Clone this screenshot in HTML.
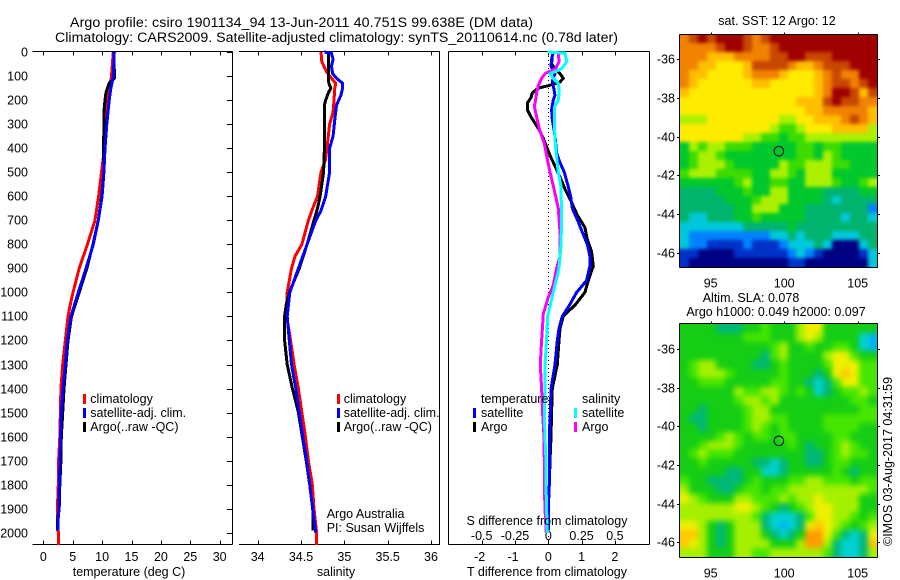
<!DOCTYPE html>
<html lang="en">
<head>
<meta charset="utf-8">
<title>Argo profile</title>
<style>
html,body{margin:0;padding:0;background:#fff}
svg{display:block}
text{font-family:"Liberation Sans",sans-serif;font-size:12.5px;fill:#000}
.title{font-size:14.2px}
</style>
</head>
<body>
<svg id="chart" width="900" height="580" viewBox="0 0 900 580" xmlns="http://www.w3.org/2000/svg">
  <defs>
    <filter id="sst-blur" filterUnits="userSpaceOnUse" x="640" y="0" width="260" height="300" color-interpolation-filters="sRGB"><feGaussianBlur stdDeviation="1.8"/></filter>
    <filter id="sla-blur" filterUnits="userSpaceOnUse" x="640" y="290" width="260" height="290" color-interpolation-filters="sRGB"><feGaussianBlur stdDeviation="3"/></filter>
    <clipPath id="sst-clip"><rect x="680" y="34" width="197" height="233"/></clipPath>
    <clipPath id="sla-clip"><rect x="680" y="324" width="197" height="233"/></clipPath>
  </defs>
  <rect x="0" y="0" width="900" height="580" fill="#fff"/>
  <g id="maps"></g>
  <g id="axes"></g>
  <g id="lines"></g>

  <text class="title" x="70" y="27" textLength="463">Argo profile: csiro 1901134_94 13-Jun-2011 40.751S 99.638E (DM data)</text>
  <text class="title" x="55" y="42" textLength="563">Climatology: CARS2009. Satellite-adjusted climatology: synTS_20110614.nc (0.78d later)</text>

  <text x="129" y="576" text-anchor="middle">temperature (deg C)</text>
  <text x="336" y="576" text-anchor="middle">salinity</text>
  <text x="547" y="576" text-anchor="middle">T difference from climatology</text>
  <text x="547" y="525" text-anchor="middle">S difference from climatology</text>

  <g>
    <rect x="83" y="394" width="3" height="10" fill="#f00"/>
    <text x="90.3" y="403">climatology</text>
    <rect x="83" y="408" width="3" height="10" fill="#00f"/>
    <text x="90.3" y="417">satellite-adj. clim.</text>
    <rect x="83" y="422" width="3" height="10" fill="#000"/>
    <text x="90.3" y="431">Argo(..raw -QC)</text>
  </g>
  <g>
    <rect x="337" y="394" width="3" height="10" fill="#f00"/>
    <text x="343.7" y="403">climatology</text>
    <rect x="337" y="408" width="3" height="10" fill="#00f"/>
    <text x="343.7" y="417">satellite-adj. clim.</text>
    <rect x="337" y="422" width="3" height="10" fill="#000"/>
    <text x="343.7" y="431">Argo(..raw -QC)</text>
  </g>
  <text x="326.7" y="518">Argo Australia</text>
  <text x="326.7" y="532">PI: Susan Wijffels</text>

  <g>
    <text x="481" y="403">temperature</text>
    <rect x="473" y="408" width="3" height="10" fill="#00f"/>
    <text x="481" y="417">satellite</text>
    <rect x="473" y="422" width="3" height="10" fill="#000"/>
    <text x="481" y="431">Argo</text>
    <text x="582" y="403">salinity</text>
    <rect x="574" y="408" width="3" height="10" fill="#0ff"/>
    <text x="582" y="417">satellite</text>
    <rect x="574" y="422" width="3" height="10" fill="#f0f"/>
    <text x="582" y="431">Argo</text>
  </g>

  <text x="777" y="25" text-anchor="middle">sat. SST: 12 Argo: 12</text>
  <text x="751" y="302" text-anchor="middle">Altim. SLA: 0.078</text>
  <text x="776" y="316" text-anchor="middle">Argo h1000: 0.049 h2000: 0.097</text>
  <text transform="translate(892,546) rotate(-90)">©IMOS 03-Aug-2017 04:31:59</text>
</svg>

<script>
// ---------- profile data ----------
const depthTicks = [0,100,200,300,400,500,600,700,800,900,1000,1100,1200,1300,1400,1500,1600,1700,1800,1900,2000];
const tempTicks = [0,5,10,15,20,25,30];
const salinityTicks = [34,34.5,35,35.5,36];
const salinityTickLabels = ['34','34.5','35','35.5','36'];
const tDiffTicks = [-2,-1,0,1,2];
const sDiffTicks = [-0.5,-0.25,0,0.25,0.5];
const sDiffTickLabels = ['-0.5','-0.25','0','0.25','0.5'];
const lonTicks = [95,100,105];
const latTicks = [-36,-38,-40,-42,-44,-46];
const floatLon = 99.638;
const floatLat = -40.751;

const tempClimDepth = [0,100,200,300,400,500,600,700,800,900,1000,1050,1100,1200,1300,1400,1500,1600,1700,1800,1900,2000,2050];
const tempClim = [11.9,11.6,10.9,10.55,10.4,9.9,9.4,8.8,7.5,6.1,5.05,4.6,4.2,3.75,3.3,3.0,2.9,2.8,2.6,2.55,2.4,2.55,2.55];

const tempSatDepth = [0,100,150,200,300,400,500,600,700,800,900,1000,1100,1200,1300,1400,1500,1600,1700,1800,1900,1950,1990];
const tempSat = [12.08,11.9,11.5,11.2,10.8,10.5,10.3,10.0,9.35,8.5,7.26,5.95,4.7,4.08,3.75,3.35,3.06,2.95,2.84,2.72,2.67,2.5,2.5];

const tempArgoDepth = [0,100,110,130,150,170,200,250,300,400,500,600,700,800,900,1000,1100,1200,1300,1400,1500,1600,1700,1800,1900,1950,1990];
const tempArgo = [12.0,12.1,12.1,11.2,10.9,10.65,10.5,10.3,10.3,10.25,10.3,9.93,9.35,8.45,7.4,6.1,4.8,4.2,3.86,3.52,3.3,3.06,3.0,2.8,2.7,2.4,2.4];

const salClimDepth = [0,40,80,100,130,150,200,250,300,400,450,500,600,650,700,800,850,900,1000,1050,1100,1200,1300,1400,1500,1600,1700,1800,1900,2000,2050];
const salClim = [34.73,34.74,34.79,34.83,34.90,34.89,34.88,34.87,34.83,34.80,34.78,34.73,34.69,34.635,34.585,34.51,34.43,34.39,34.34,34.335,34.335,34.38,34.42,34.47,34.51,34.55,34.585,34.63,34.65,34.68,34.68];

const salSatDepth = [0,5,30,60,90,110,130,150,180,220,280,350,400,500,600,660,700,800,900,1000,1100,1200,1300,1400,1500,1600,1700,1800,1900,2000];
const salSat = [34.77,34.85,34.87,34.85,34.865,34.91,34.98,34.98,34.96,34.91,34.89,34.87,34.83,34.83,34.785,34.73,34.67,34.57,34.47,34.37,34.34,34.365,34.39,34.44,34.48,34.52,34.565,34.60,34.635,34.67];

const salArgoDepth = [0,100,130,150,170,200,220,300,400,500,600,650,700,800,900,1000,1050,1100,1200,1300,1400,1500,1600,1700,1800,1900,1950,1990];
const salArgo = [34.815,34.815,34.82,34.845,34.815,34.785,34.77,34.77,34.77,34.76,34.72,34.69,34.65,34.57,34.48,34.365,34.33,34.31,34.31,34.34,34.40,34.47,34.515,34.56,34.60,34.635,34.64,34.64];

const tDiffSatDepth = [0,30,60,90,120,140,180,200,240,280,350,420,460,500,550,600,650,700,750,800,850,890,950,1000,1050,1100,1150,1200,1300,1400,1500,1600,1700,1800,1900,1990];
const tDiffSat = [0.15,0.10,0.08,0.2,0.12,0.15,0.20,0.15,0.10,0.12,0.2,0.25,0.35,0.48,0.58,0.67,0.72,0.88,1.02,1.17,1.25,1.25,1.15,0.85,0.65,0.42,0.32,0.27,0.2,0.08,0.06,0.03,0.03,0.03,0,0];

const tDiffArgoDepth = [0,50,70,90,110,125,140,150,170,190,210,240,270,300,330,370,430,480,520,570,620,680,730,780,830,890,950,1000,1050,1100,1150,1200,1300,1400,1500,1600,1700,1800,1900,1990];
const tDiffArgo = [0.13,0.1,0.2,0.35,0.45,0.35,0,-0.3,-0.48,-0.52,-0.62,-0.63,-0.52,-0.38,-0.25,-0.12,0.05,0.22,0.35,0.5,0.68,0.88,1.1,1.17,1.3,1.35,1.2,1.1,0.82,0.45,0.35,0.32,0.27,0.12,0.1,0.08,0.05,0.03,0,0];

const sDiffSatDepth = [0,5,40,70,90,110,130,160,200,230,300,400,500,560,700,800,900,970,1030,1100,1200,1300,1400,1500,1600,1700,1800,1900,2000];
const sDiffSat = [-0.005,0.125,0.14,0.1,0.0125,0.0375,0.075,0.0825,0.075,0.045,0.045,0.055,0.075,0.095,0.1,0.095,0.08,0.05,0.025,-0.005,-0.0125,-0.025,-0.025,-0.03,-0.025,-0.0175,-0.0175,-0.0125,-0.0075];

const sDiffArgoDepth = [0,40,70,90,110,140,170,200,225,270,330,380,430,500,570,650,750,850,900,970,1020,1090,1200,1300,1400,1500,1600,1700,1800,1900,1950,2000];
const sDiffArgo = [0.075,0.08,0.055,-0.025,-0.05,-0.075,-0.0875,-0.095,-0.105,-0.0875,-0.0625,-0.03,-0.0125,0.0125,0.0425,0.075,0.0875,0.0875,0.0625,0.0375,0,-0.0375,-0.05,-0.06,-0.05,-0.0425,-0.0325,-0.03,-0.03,-0.025,-0.02,-0.015];

// ---------- map data (colour level per cell, north to south) ----------
const sstColors = ['#000082','#0032c8','#0082ff','#00c8dc','#00b46e','#00c82d','#3cdc00','#aaf000','#ffeb00','#ffbe00','#f08200','#c84600','#a00000'];
const slaColors = ['#000082','#0032c8','#00b4f0','#00d2d2','#00b878','#14cd14','#46e600','#a5f000','#f0f000','#ffc800','#ff9b00','#c84600','#a00000'];

const sstCells = [
[10,11,12,11,12,12,12,11,10,11,12,12,12,12,12,12,12,12,12,12,12,12],
[10,10,10,10,11,12,12,11,10,10,11,12,12,12,12,12,12,12,12,12,12,12],
[10,10,10,9,9,9,10,10,10,10,11,11,12,12,11,11,11,12,12,12,12,12],
[10,10,9,9,8,8,8,9,11,11,11,11,10,9,9,10,11,11,11,12,12,12],
[10,9,9,8,8,8,8,9,10,10,10,9,8,8,8,9,10,11,10,10,12,12],
[10,9,8,8,8,8,8,8,9,9,8,8,8,8,8,9,10,11,11,10,11,12],
[9,8,8,8,8,8,8,8,8,8,8,8,8,8,8,9,10,12,12,11,9,11],
[8,8,8,8,8,8,8,8,8,8,8,8,8,9,9,9,11,12,11,11,10,10],
[8,8,8,8,8,8,8,8,8,8,8,8,8,8,9,9,10,10,10,10,10,9],
[7,7,7,8,8,8,8,8,8,8,8,7,7,8,8,9,9,9,10,11,10,9],
[8,8,8,8,8,8,8,8,8,8,7,6,6,7,8,8,8,9,9,9,9,7],
[8,8,8,8,8,8,8,7,7,6,6,5,6,6,7,7,7,7,7,7,7,7],
[5,7,6,7,7,6,6,6,5,5,5,5,5,6,6,5,6,6,5,5,5,5],
[5,6,7,7,6,5,5,5,5,5,5,5,5,6,6,5,7,6,5,5,5,5],
[5,6,7,7,7,6,5,5,5,5,5,7,6,6,7,7,7,6,6,5,5,5],
[6,7,7,7,6,6,6,6,5,5,7,7,6,5,7,7,7,5,5,5,5,5],
[5,5,5,5,5,5,6,7,5,5,6,6,5,5,7,7,7,6,5,5,6,7],
[4,4,4,4,5,5,5,6,5,5,7,7,5,5,5,5,4,4,4,4,5,5],
[4,4,4,4,4,5,5,5,6,7,7,7,5,5,5,5,4,3,4,4,4,4],
[4,4,4,4,4,4,5,5,7,7,7,5,5,5,4,4,4,4,4,4,4,2],
[4,3,3,4,4,4,5,5,6,5,5,5,5,5,4,4,4,4,3,4,4,3],
[3,3,3,3,3,3,3,4,4,4,4,4,5,4,4,4,4,4,4,4,4,4],
[3,2,2,2,2,2,2,2,2,2,3,3,4,3,4,4,4,3,3,3,4,4],
[3,2,2,1,1,1,1,2,1,1,1,2,3,3,3,4,3,0,0,0,3,4],
[1,1,0,0,0,0,1,1,1,1,1,1,2,3,2,1,0,0,0,0,1,3],
[1,0,0,0,0,0,0,0,0,0,0,0,1,1,0,0,0,0,0,0,0,3]
];

const slaCells = [
[5,5,5,5,4,4,4,5,5,6,5,5,5,7,8,8,5,5,5,5,5,5],
[5,5,5,5,5,5,5,6,6,6,5,5,5,7,8,7,5,5,5,5,3,2],
[5,5,5,5,5,5,5,5,5,5,6,7,5,5,6,5,5,6,6,5,3,2],
[5,5,5,5,5,5,5,5,5,4,6,7,5,5,5,5,7,8,8,6,5,5],
[5,6,7,7,5,5,5,5,4,4,5,6,5,5,5,5,6,8,8,8,6,6],
[5,6,7,7,7,6,5,5,5,5,5,6,5,5,5,4,5,8,9,8,6,6],
[5,5,6,6,6,5,5,5,5,5,6,6,5,5,4,3,4,6,8,8,6,6],
[5,5,5,5,5,5,7,6,6,7,7,6,5,6,5,3,4,5,6,6,7,6],
[5,5,5,5,5,5,6,7,7,6,7,5,5,5,5,5,5,5,5,6,6,5],
[5,5,4,5,5,5,5,6,7,7,5,5,5,5,5,5,5,5,5,5,6,6],
[5,4,4,5,5,5,5,6,7,7,6,6,5,5,5,5,6,6,6,6,6,6],
[5,5,4,5,5,5,5,6,7,6,5,6,5,5,5,5,6,6,6,6,5,5],
[5,5,5,5,6,7,6,5,6,6,5,6,6,5,5,5,5,6,6,5,5,5],
[5,5,6,7,7,7,6,5,5,5,5,5,6,5,4,5,5,6,7,6,5,5],
[5,6,7,6,6,6,5,5,5,5,5,5,5,5,4,4,5,6,7,6,6,5],
[5,5,6,5,5,5,5,5,4,4,3,4,5,5,4,4,5,6,6,5,5,5],
[5,5,5,5,5,4,4,5,5,3,3,4,5,5,5,5,5,6,5,4,5,5],
[6,5,5,4,4,4,4,5,6,5,5,5,6,6,7,7,6,6,6,5,6,6],
[7,5,5,5,4,4,5,6,6,5,6,6,7,7,7,7,7,7,7,7,7,6],
[8,7,6,5,5,5,7,7,6,6,6,7,6,7,7,8,7,7,7,7,5,5],
[7,7,7,7,7,7,8,8,7,6,5,4,5,6,7,8,8,7,7,7,5,5],
[7,7,7,7,7,7,7,7,6,4,3,3,3,4,6,8,8,7,7,6,5,6],
[8,8,7,5,4,5,7,7,7,4,3,2,3,4,8,9,8,7,6,5,6,7],
[9,9,7,5,4,5,7,7,7,5,4,3,4,5,10,10,8,6,4,3,4,8],
[9,8,7,5,4,5,7,7,7,7,5,5,5,7,10,10,7,4,3,3,4,9],
[7,7,7,5,5,5,7,7,6,6,7,7,7,7,7,7,6,4,3,3,4,7]
];

// ---------- axis functions ----------
const depthY = d => 52 + 0.2404 * d;
const tempX = t => 43.3 + 5.88 * t;
const salX = s => 257.7 + 86.65 * (s - 34);
const tDiffX = t => 548.3 + 33.3 * t;
const sDiffX = s => tDiffX(s * 4);
const lonX = lon => 710.7 + 14.7 * (lon - 95);
const sstLatY = lat => 59.3 + 19.34 * (-36 - lat);
const slaLatY = lat => 349 + 19.34 * (-36 - lat);

const SVGNS = 'http://www.w3.org/2000/svg';
const axesLayer = document.getElementById('axes');
const linesLayer = document.getElementById('lines');
const mapsLayer = document.getElementById('maps');

function make(tag, parent, attrs) {
  const el = document.createElementNS(SVGNS, tag);
  for (const k in attrs) el.setAttribute(k, attrs[k]);
  parent.appendChild(el);
  return el;
}
function seg(x1, y1, x2, y2, name) {
  const el = make('line', axesLayer, {x1: x1, y1: y1, x2: x2, y2: y2, stroke: '#000', 'stroke-width': 1, 'shape-rendering': 'crispEdges'});
  
  
  return el;
}
function label(x, y, str, anchor, name) {
  const el = make('text', axesLayer, {x: x, y: y, 'text-anchor': anchor});
  el.textContent = str;
  
  
  return el;
}
function profile(depths, values, xf, color, name) {
  const pts = depths.map((d, i) => xf(values[i]).toFixed(1) + ',' + depthY(d).toFixed(1)).join(' ');
  const el = make('polyline', linesLayer, {points: pts, fill: 'none', stroke: color, 'stroke-width': 3, 'shape-rendering': 'crispEdges', 'stroke-linejoin': 'round'});
  
  
}

// ---------- profile panel frames ----------
const top_ = 51.5, bottom = 544.5;
seg(32.5, top_, 232.5, top_, 'temperature-panel-top-spine');
seg(32.5, bottom, 232.5, bottom, 'temperature-panel-bottom-spine');
seg(232.5, top_, 232.5, bottom, 'temperature-panel-right-spine');
seg(239, top_, 440, top_, 'salinity-panel-top-spine');
seg(239, bottom, 440, bottom, 'salinity-panel-bottom-spine');
seg(439.5, top_, 439.5, bottom, 'salinity-panel-right-spine');
seg(448.5, top_, 649.5, top_, 'difference-panel-top-spine');
seg(448.5, bottom, 649.5, bottom, 'difference-panel-bottom-spine');
seg(448.5, top_, 448.5, bottom, 'difference-panel-left-spine');
seg(649.5, top_, 649.5, bottom, 'difference-panel-right-spine');

depthTicks.forEach(d => {
  const y = Math.round(depthY(d)) + 0.5;
  seg(227, y, 232, y, 'depth-tick');
  label(28, y + 4, String(d), 'end', 'depth-tick-label');
});
tempTicks.forEach(t => {
  const x = Math.round(tempX(t)) + 0.5;
  seg(x, top_, x, top_ + 4, 'temperature-top-tick');
  seg(x, bottom, x, bottom - 4, 'temperature-bottom-tick');
  label(tempX(t), 561, String(t), 'middle', 'temperature-tick-label');
});
salinityTicks.forEach((s, i) => {
  const x = Math.round(salX(s)) + 0.5;
  seg(x, top_, x, top_ + 4, 'salinity-top-tick');
  seg(x, bottom, x, bottom - 4, 'salinity-bottom-tick');
  label(salX(s), 561, salinityTickLabels[i], 'middle', 'salinity-tick-label');
});
tDiffTicks.forEach(t => {
  const x = Math.round(tDiffX(t)) + 0.5;
  seg(x, top_, x, top_ + 4, 'difference-top-tick');
  seg(x, bottom, x, bottom - 4, 'difference-bottom-tick');
  label(tDiffX(t) - (t < 0 ? 2 : 0), 561, String(t), 'middle', 'difference-tick-label');
});
sDiffTicks.forEach((s, i) => {
  label(sDiffX(s), 540, sDiffTickLabels[i], 'middle', 's-difference-tick-label');
});

// ---------- zero line ----------
const zeroLine = make('line', linesLayer, {x1: tDiffX(0), y1: depthY(0), x2: tDiffX(0), y2: depthY(2050), stroke: '#000', 'stroke-width': 1, 'stroke-dasharray': '1 3', 'shape-rendering': 'crispEdges'});



// ---------- profile lines ----------
profile(tempClimDepth, tempClim, tempX, '#f00', 'temperature-climatology-line');
profile(tempArgoDepth, tempArgo, tempX, '#000', 'temperature-argo-line');
profile(tempSatDepth, tempSat, tempX, '#00f', 'temperature-satellite-line');

profile(salClimDepth, salClim, salX, '#f00', 'salinity-climatology-line');
profile(salArgoDepth, salArgo, salX, '#000', 'salinity-argo-line');
profile(salSatDepth, salSat, salX, '#00f', 'salinity-satellite-line');

profile(tDiffArgoDepth, tDiffArgo, tDiffX, '#000', 't-difference-argo-line');
profile(tDiffSatDepth, tDiffSat, tDiffX, '#00f', 't-difference-satellite-line');
profile(sDiffArgoDepth, sDiffArgo, sDiffX, '#f0f', 's-difference-argo-line');
profile(sDiffSatDepth, sDiffSat, sDiffX, '#0ff', 's-difference-satellite-line');

// ---------- maps ----------
const lonMin = 92.9, lonStep = 0.6105;
const latMax = -34.72, latStep = 0.4625;

function drawMap(cells, colors, latY, prefix) {
  const clip = make('g', mapsLayer, {'clip-path': 'url(#' + prefix + '-clip)'});
  
  
  const g = make('g', clip, {filter: 'url(#' + prefix + '-blur)'});
  
  
  const lastRow = cells.length - 1;
  cells.forEach((row, r) => {
    const lastCol = row.length - 1;
    row.forEach((level, c) => {
      let x0 = Math.round(lonX(lonMin + c * lonStep));
      let x1 = Math.round(lonX(lonMin + (c + 1) * lonStep));
      let y0 = Math.round(latY(latMax - r * latStep));
      let y1 = Math.round(latY(latMax - (r + 1) * latStep));
      if (c === 0) x0 -= 14;
      if (c === lastCol) x1 += 14;
      if (r === 0) y0 -= 14;
      if (r === lastRow) y1 += 14;
      const cell = make('rect', g, {x: x0, y: y0, width: x1 - x0, height: y1 - y0, fill: colors[level], 'shape-rendering': 'crispEdges'});
      
      
    });
  });
  const t = Math.round(latY(latMax)) - 0.5;
  const b = Math.round(latY(latMax - 26 * latStep)) + 0.5;
  const l = 679.5, rr = 877.5;
  seg(l, t, rr, t, prefix + '-top-spine');
  seg(l, b, rr, b, prefix + '-bottom-spine');
  seg(l, t, l, b, prefix + '-left-spine');
  seg(rr, t, rr, b, prefix + '-right-spine');
  lonTicks.forEach(lon => {
    const x = Math.round(lonX(lon)) + 0.5;
    seg(x, t - 2, x, t, prefix + '-lon-top-tick');
    label(lonX(lon), b + 20, String(lon), 'middle', prefix + '-lon-tick-label');
  });
  latTicks.forEach(lat => {
    const y = Math.round(latY(lat)) + 0.5;
    seg(677, y, 679.5, y, prefix + '-lat-left-tick');
    seg(877.5, y, 880, y, prefix + '-lat-right-tick');
    label(675, y + 4, String(lat), 'end', prefix + '-lat-tick-label');
  });
  const marker = make('circle', axesLayer, {cx: lonX(floatLon), cy: latY(floatLat), r: 4.8, fill: 'none', stroke: '#000', 'stroke-width': 1});
  
  
}
drawMap(sstCells, sstColors, sstLatY, 'sst');
drawMap(slaCells, slaColors, slaLatY, 'sla');
</script>
</body>
</html>
